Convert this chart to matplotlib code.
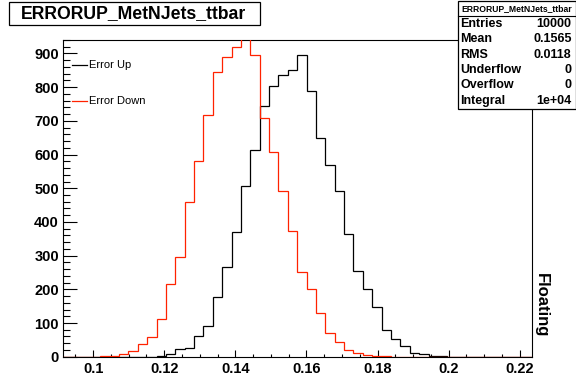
import numpy as np
import matplotlib
matplotlib.use("Agg")
import matplotlib.pyplot as plt
from matplotlib.patches import Rectangle
from matplotlib.lines import Line2D
from matplotlib.ticker import MultipleLocator, FormatStrFormatter

plt.rcParams["font.family"] = ["Liberation Sans", "DejaVu Sans"]

# ---- data ----
x_min, x_max, n_bins = 0.09143, 0.22337, 50
y_max = 940

error_up = [0, 0, 0, 0, 0, 0, 0, 0, 0, 0,
            1, 7, 22, 26, 61, 92, 178, 266, 369, 507,
            614, 743, 804, 837, 850, 895, 790, 650, 570, 493,
            365, 254, 200, 147, 78, 53, 33, 12, 9, 3,
            1, 0, 0, 0, 0, 0, 0, 0, 0, 0]
error_down = [0, 0, 0, 0, 1, 2, 9, 16, 38, 57,
              113, 216, 295, 458, 582, 717, 844, 891, 920, 985,
              895, 709, 609, 491, 373, 252, 200, 129, 71, 43,
              19, 10, 5, 2, 1, 0, 0, 0, 0, 0,
              0, 0, 0, 0, 0, 0, 0, 0, 0, 0]

title = "ERRORUP_MetNJets_ttbar"
legend_labels = ["Error Up", "Error Down"]
stat_labels = ["Entries", "Mean", "RMS", "Underflow", "Overflow", "Integral"]
stat_values = ["10000", "0.1565", "0.0118", "0", "0", "1e+04"]
side_label = "Floating"

W, H = 576, 381
fig = plt.figure(figsize=(W / 100, H / 100), dpi=100)


def fx(px):
    return px / W


def fy(py):
    return 1 - py / H


left, right, top, bottom = 62.7, 531.7, 40.0, 356.7
ax = fig.add_axes([fx(left), fy(bottom), (right - left) / W, (bottom - top) / H])

edges = np.linspace(x_min, x_max, n_bins + 1)
ax.stairs(error_up, edges, baseline=0, color="black", lw=0.9, zorder=3)
ax.stairs(error_down, edges, baseline=0, color="#ff2200", lw=0.9, zorder=3.1)

ax.set_xlim(x_min, x_max)
ax.set_ylim(0, y_max)

ax.xaxis.set_major_locator(MultipleLocator(0.02))
ax.xaxis.set_minor_locator(MultipleLocator(0.005))
ax.yaxis.set_major_locator(MultipleLocator(100))
ax.yaxis.set_minor_locator(MultipleLocator(20))
ax.xaxis.set_major_formatter(matplotlib.ticker.FuncFormatter(lambda v, p: f"{v:.2f}".rstrip("0")))
ax.yaxis.set_major_formatter(FormatStrFormatter("%d"))

ax.tick_params(axis="x", which="major", direction="in", length=5, width=0.8, pad=3.6,
               labelsize=10.5, top=False)
ax.tick_params(axis="x", which="minor", direction="in", length=2.5, width=0.8, top=False)
ax.tick_params(axis="y", which="major", direction="in", length=10, width=0.8, pad=2.7,
               labelsize=10.5, right=False)
ax.tick_params(axis="y", which="minor", direction="in", length=5, width=0.8, right=False)
for lab in ax.get_xticklabels() + ax.get_yticklabels():
    lab.set_fontweight("bold")
for s in ax.spines.values():
    s.set_linewidth(0.8)
    s.set_color("black")

# legend (manual, no border)
leg_y = [65, 100.7]
leg_colors = ["black", "#ff2200"]
for lbl, yy, col in zip(legend_labels, leg_y, leg_colors):
    fig.add_artist(Line2D([fx(72.3), fx(86.7)], [fy(yy), fy(yy)], color=col, lw=0.9))
    fig.text(fx(89), fy(yy), lbl, fontsize=8, va="center", ha="left")

# title box
fig.add_artist(Rectangle((fx(9), fy(25)), (259.5 - 9) / W, (25 - 2.5) / H,
                         facecolor="white", edgecolor="black", lw=0.9))
fig.text(fx(134), fy(13.8), title, fontsize=12.7, fontweight="bold",
         ha="center", va="center")

# stats box
bx0, bx1, by0, by1, sep = 457.5, 575.5, 0.8, 108.5, 16
fig.add_artist(Rectangle((fx(bx0), fy(by1)), (bx1 - bx0) / W, (by1 - by0) / H,
                         facecolor="white", edgecolor="black", lw=0.9, zorder=5))
fig.add_artist(Line2D([fx(bx0), fx(bx1)], [fy(sep), fy(sep)], color="black", lw=0.8, zorder=6))
fig.text(fx((bx0 + bx1) / 2), fy((by0 + sep) / 2 + 0.5), title, fontsize=6.2,
         fontweight="bold", ha="center", va="center", zorder=6)
row_h = (by1 - sep) / len(stat_labels)
for i, (lbl, val) in enumerate(zip(stat_labels, stat_values)):
    yy = sep + row_h * (i + 0.5)
    fig.text(fx(bx0 + 3), fy(yy), lbl, fontsize=9, fontweight="bold",
             ha="left", va="center", zorder=6)
    fig.text(fx(bx1 - 4), fy(yy), val, fontsize=9, fontweight="bold",
             ha="right", va="center", zorder=6)

# side label
fig.text(fx(541.7), fy(305), side_label, fontsize=12, fontweight="bold",
         rotation=270, ha="center", va="center")

fig.savefig("out.png", dpi=100)
